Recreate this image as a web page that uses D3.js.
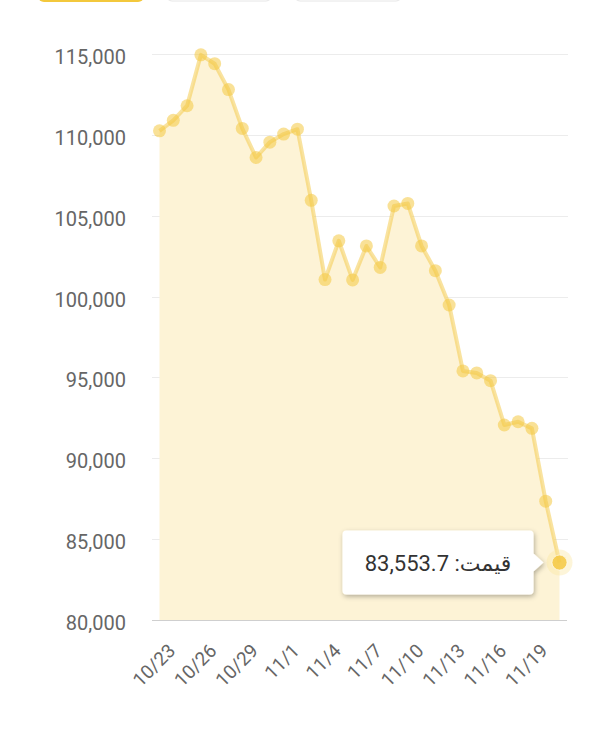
<!DOCTYPE html>
<html>
<head>
<meta charset="utf-8">
<script src="https://cdn.jsdelivr.net/npm/d3@7"></script>
<style>
  html, body { margin: 0; padding: 0; background: #fff; }
  body { width: 600px; height: 734px; overflow: hidden; font-family: Roboto, "DejaVu Sans", sans-serif; }
  svg { display: block; }
</style>
</head>
<body>
<div id="chart"></div>
<script>
// daily dates shown on the chart
const dates = ['10/23','10/24','10/25','10/26','10/27','10/28','10/29','10/30','10/31',
               '11/1','11/2','11/3','11/4','11/5','11/6','11/7','11/8','11/9','11/10',
               '11/11','11/12','11/13','11/14','11/15','11/16','11/17','11/18','11/19',
               '11/20','11/21'];
// price series
const prices = [110250, 110900, 111800, 114950, 114400, 112800, 110400, 108600, 109550, 110050,
                110350, 105950, 101050, 103450, 101030, 103130, 101800, 105600, 105760, 103130,
                101600, 99480, 95400, 95280, 94800, 92060, 92260, 91850, 87350, 83553.7];
const xTickLabels = ['10/23','10/26','10/29','11/1','11/4','11/7','11/10','11/13','11/16','11/19'];
const yTicks = [80000, 85000, 90000, 95000, 100000, 105000, 110000, 115000];
const tooltipLabel = 'قیمت';

let width = 600,
    height = 734,
    plot = {left: 152, right: 568, top: 54, bottom: 620},
    grey = '#666666',
    yellow = '#f4c842',
    fillColor = '#fdf3d6';

let svg = d3.select('#chart').append('svg')
    .attr('width', width)
    .attr('height', height);

let x = d3.scalePoint()
    .domain(dates)
    .range([159.5, 559.5]);

let y = d3.scaleLinear()
    .domain([80000, 115000])
    .range([plot.bottom, plot.top]);

// buttons cut off at the top edge
let header = svg.append('g');
header.append('rect')
    .attr('x', 38).attr('y', -34).attr('width', 106).attr('height', 36)
    .attr('rx', 6).attr('fill', '#f3c83c');
[[166, 106], [294, 108]].forEach(([bx, bw]) => {
  header.append('rect')
      .attr('x', bx).attr('y', -34).attr('width', bw).attr('height', 35)
      .attr('rx', 6).attr('fill', '#fff').attr('stroke', '#e6e6e6');
});
header.append('text')
    .attr('x', 548).attr('y', -5)
    .attr('text-anchor', 'start')
    .attr('direction', 'rtl')
    .attr('fill', '#222')
    .style('font-size', '20px')
    .style('font-family', '"DejaVu Sans", sans-serif')
    .text('روز');

// grid lines
svg.append('g')
    .selectAll('line')
    .data(yTicks.slice(1))
    .enter()
    .append('line')
    .attr('x1', plot.left)
    .attr('x2', plot.right)
    .attr('y1', d => Math.round(y(d)) + .5)
    .attr('y2', d => Math.round(y(d)) + .5)
    .attr('stroke', '#ececec');

// y labels
svg.append('g')
    .selectAll('text')
    .data(yTicks)
    .enter()
    .append('text')
    .attr('x', 126)
    .attr('y', d => y(d) + 10)
    .attr('text-anchor', 'end')
    .attr('fill', grey)
    .style('font-size', '20px')
    .text(d => d3.format(',')(d));

// area + line
let area = d3.area()
    .x((d, i) => x(dates[i]))
    .y0(plot.bottom)
    .y1(d => y(d));

let line = d3.line()
    .x((d, i) => x(dates[i]))
    .y(d => y(d));

svg.append('path')
    .datum(prices)
    .attr('d', area)
    .attr('fill', fillColor);

// x axis line
svg.append('line')
    .attr('x1', plot.left)
    .attr('x2', plot.right - 1)
    .attr('y1', plot.bottom + .5)
    .attr('y2', plot.bottom + .5)
    .attr('stroke', '#cfcfcf');

svg.append('path')
    .datum(prices)
    .attr('d', line)
    .attr('fill', 'none')
    .attr('stroke', yellow)
    .attr('stroke-opacity', .5)
    .attr('stroke-width', 4)
    .attr('stroke-linejoin', 'round');

// points
svg.append('g')
    .selectAll('circle')
    .data(prices.slice(0, -1))
    .enter()
    .append('circle')
    .attr('cx', (d, i) => x(dates[i]))
    .attr('cy', d => y(d))
    .attr('r', 6.5)
    .attr('fill', yellow)
    .attr('fill-opacity', .55);

// hovered last point
let lastI = prices.length - 1,
    lx = x(dates[lastI]),
    ly = y(prices[lastI]);

svg.append('circle')
    .attr('cx', lx).attr('cy', ly).attr('r', 13)
    .attr('fill', '#fbe7a0').attr('fill-opacity', .4);
svg.append('circle')
    .attr('cx', lx).attr('cy', ly).attr('r', 7.5)
    .attr('fill', yellow).attr('fill-opacity', .85)
    .attr('stroke', '#fff').attr('stroke-opacity', .6).attr('stroke-width', 1);

// x labels
svg.append('g')
    .selectAll('text')
    .data(xTickLabels)
    .enter()
    .append('text')
    .attr('transform', d => `translate(${x(d) + 17}, 652) rotate(-45)`)
    .attr('text-anchor', 'end')
    .attr('fill', grey)
    .style('font-size', '19px')
    .text(d => d);

// tooltip
let defs = svg.append('defs');
let shadow = defs.append('filter').attr('id', 'shadow')
    .attr('x', '-20%').attr('y', '-30%').attr('width', '140%').attr('height', '170%');
shadow.append('feDropShadow')
    .attr('dx', 1).attr('dy', 2).attr('stdDeviation', 2.5)
    .attr('flood-color', '#000').attr('flood-opacity', .3);

let tipR = lx - 26,
    tipL = tipR - 191,
    tipT = ly - 32,
    tipB = ly + 32;

svg.append('path')
    .attr('d', `M ${tipL + 4} ${tipT} H ${tipR - 4} Q ${tipR} ${tipT} ${tipR} ${tipT + 4}
                V ${ly - 9} L ${tipR + 10} ${ly} L ${tipR} ${ly + 9}
                V ${tipB - 4} Q ${tipR} ${tipB} ${tipR - 4} ${tipB}
                H ${tipL + 4} Q ${tipL} ${tipB} ${tipL} ${tipB - 4}
                V ${tipT + 4} Q ${tipL} ${tipT} ${tipL + 4} ${tipT} Z`)
    .attr('fill', '#fff')
    .attr('filter', 'url(#shadow)');

svg.append('text')
    .attr('x', (tipL + tipR) / 2)
    .attr('y', ly + 8)
    .attr('text-anchor', 'middle')
    .attr('direction', 'rtl')
    .attr('fill', '#333')
    .style('font-size', '22px')
    .text(`${tooltipLabel}: ${d3.format(',.1f')(prices[lastI])}`);
</script>
</body>
</html>
